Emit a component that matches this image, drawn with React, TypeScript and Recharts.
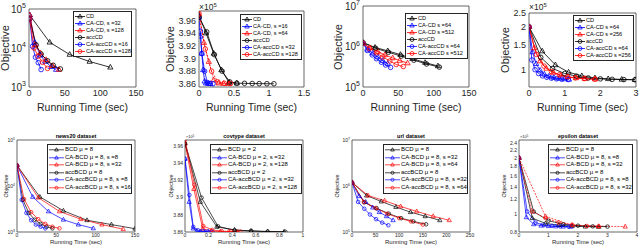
import React from 'react';
import { LineChart, Line, XAxis, YAxis, ReferenceArea, Legend } from 'recharts';

const INK = '#262626';
const FONT = '"Liberation Sans", Arial, Helvetica, sans-serif';
const COLORS = ['#000000', '#0000ff', '#ff0000', '#000000', '#0000ff', '#ff0000'];
const SHAPES = ['tri', 'tri', 'tri', 'circle', 'circle', 'circle'];

// ---------- top row, panel 1 ----------
const labels1 = ['CD', 'CA-CD, s =32', 'CA-CD, s =128', 'accCD', 'CA-accCD s =16', 'CA-accCD s =128'];
const times1 = [
  [1, 29, 57, 85, 114],
  [1, 8, 16, 23, 31, 38],
  [1, 9, 16, 24, 33, 42],
  [1, 10, 17, 26, 34, 44],
  [1, 5, 9, 13, 17],
  [1, 7, 13, 19, 26],
];
const values1 = [
  [7e4, 1.4e4, 6.8e3, 4.5e3, 3.2e3],
  [7e4, 1.4e4, 6.5e3, 4.5e3, 3.3e3, 2.8e3],
  [7e4, 1.2e4, 7.5e3, 5e3, 3.5e3, 2.8e3],
  [5.5e4, 1.2e4, 7e3, 4.7e3, 3.6e3, 2.9e3],
  [5.5e4, 1.1e4, 5.8e3, 4.2e3, 2.8e3],
  [5.5e4, 1e4, 6.2e3, 4.3e3, 3e3],
];

// ---------- top row, panel 2 (x1e5) ----------
const labels2 = ['CD', 'CA-CD, s =16', 'CA-CD, s =64', 'accCD', 'CA-accCD s =32', 'CA-accCD s =128'];
const times2 = [
  [0, 0.1, 0.21, 0.32, 0.43, 0.54],
  [0, 0.02, 0.04, 0.06, 0.08, 0.1, 0.13, 0.16],
  [0, 0.07, 0.14, 0.21, 0.28, 0.35, 0.42],
  [0, 0.11, 0.22, 0.33, 0.44, 0.54, 0.65, 0.76, 0.86, 0.97, 1.07],
  [0.02, 0.04, 0.08, 0.12, 0.16, 0.2],
  [0, 0.09, 0.18, 0.27, 0.36, 0.45],
];
const values2 = [
  [3.968, 3.94, 3.908, 3.882, 3.862, 3.861],
  [3.965, 3.935, 3.908, 3.882, 3.864, 3.861, 3.8603, 3.8601],
  [3.97, 3.925, 3.895, 3.866, 3.861, 3.8604, 3.8602],
  [3.965, 3.942, 3.906, 3.88, 3.863, 3.861, 3.8608, 3.8605, 3.8603, 3.8602, 3.8601],
  [3.943, 3.908, 3.88, 3.862, 3.8605, 3.8601],
  [3.971, 3.915, 3.88, 3.863, 3.861, 3.8605],
];

// ---------- top row, panel 3 ----------
const labels3 = ['CD', 'CA-CD s =64', 'CA-CD s =512', 'accCD', 'CA-accCD s =64', 'CA-accCD s =512'];
const times3 = [
  [0, 17, 35, 53, 70, 88, 106],
  [0, 7, 14, 21, 28, 35],
  [0, 10, 21, 31, 42, 52, 63],
  [0, 18, 36, 54, 72, 90, 108],
  [0, 6, 13, 19, 26, 32, 39],
  [0, 9, 19, 28, 38, 47, 57],
];
const values3 = [
  [1.25e6, 9.5e5, 7.8e5, 6.3e5, 5.0e5, 4.0e5, 3.3e5],
  [1.2e6, 8.5e5, 6.8e5, 5.5e5, 4.5e5, 3.8e5],
  [1.2e6, 9.3e5, 7.5e5, 6.2e5, 5.2e5, 4.5e5, 3.9e5],
  [1.25e6, 9e5, 7.2e5, 5.8e5, 4.6e5, 3.7e5, 3.1e5],
  [1.2e6, 8e5, 6.2e5, 5.0e5, 4.1e5, 3.5e5, 3.05e5],
  [1.2e6, 9e5, 7e5, 5.5e5, 4.4e5, 3.6e5, 3.2e5],
];

// ---------- top row, panel 4 (x1e5) ----------
const labels4 = ['CD', 'CA-CD s =64', 'CA-CD s =256', 'accCD', 'CA-accCD s =64', 'CA-accCD s =256'];
const times4 = [
  [0, 0.37, 0.74, 1.11, 1.48, 1.85, 2.22, 2.6, 2.97],
  [0, 0.1, 0.2, 0.31, 0.43, 0.56, 0.7, 0.85, 1.0, 1.12],
  [0, 0.15, 0.31, 0.49, 0.68, 0.89, 1.1, 1.32, 1.57, 1.85],
  [0, 0.33, 0.66, 1.0, 1.33, 1.66, 2.0, 2.33, 2.66, 2.97],
  [0, 0.08, 0.17, 0.27, 0.38, 0.5, 0.63, 0.77, 0.92, 1.1],
  [0, 0.21, 0.42, 0.63, 0.85, 1.07, 1.3, 1.55, 1.85],
];
const values4 = [
  [2.0, 1.35, 1.08, 0.96, 0.905, 0.875, 0.862, 0.855, 0.85],
  [2.0, 1.33, 1.1, 0.99, 0.93, 0.9, 0.88, 0.868, 0.86, 0.855],
  [2.0, 1.42, 1.15, 1.02, 0.955, 0.915, 0.89, 0.875, 0.865, 0.858],
  [2.0, 1.22, 1.02, 0.94, 0.9, 0.875, 0.862, 0.855, 0.852, 0.85],
  [2.0, 1.17, 1.0, 0.94, 0.905, 0.885, 0.872, 0.863, 0.857, 0.853],
  [2.0, 1.28, 1.06, 0.97, 0.92, 0.893, 0.877, 0.866, 0.858],
];

// ---------- bottom row, news20 ----------
const labels5 = ['BCD \u03bc = 8', 'CA-BCD \u03bc = 8, s =8', 'CA-BCD \u03bc = 8, s =32', 'accBCD \u03bc = 8', 'CA-accBCD \u03bc = 8, s =8', 'CA-accBCD \u03bc = 8, s =16'];
const times5 = [
  [0, 29, 59, 89, 120, 150],
  [0, 20, 40, 59, 78, 97],
  [0, 27, 54, 81, 108, 135],
  [0, 7.5, 15, 22.5, 30, 37.5, 45],
  [0, 6, 12, 18, 24, 30, 36],
  [0, 9, 18, 27, 36, 45, 54],
];
const values5 = [
  [2.8e4, 5.8e3, 2.9e3, 1.8e3, 1.45e3, 1.18e3],
  [2.8e4, 5.8e3, 2.8e3, 1.85e3, 1.45e3, 1.2e3],
  [2.8e4, 5.6e3, 2.8e3, 1.9e3, 1.45e3, 1.15e3],
  [2.8e4, 5e3, 2.6e3, 1.85e3, 1.5e3, 1.3e3, 1.2e3],
  [2.8e4, 5e3, 2.6e3, 1.8e3, 1.45e3, 1.3e3, 1.2e3],
  [2.8e4, 5.2e3, 2.7e3, 1.9e3, 1.5e3, 1.3e3, 1.2e3],
];

// ---------- bottom row, covtype (x1e5) ----------
const labels6 = ['BCD \u03bc = 2', 'CA-BCD \u03bc = 2, s =32', 'CA-BCD \u03bc = 2, s =128', 'accBCD \u03bc = 2', 'CA-accBCD \u03bc = 2, s =32', 'CA-accBCD \u03bc = 2, s =128'];
const times6 = [
  [0, 0.13, 0.27, 0.42, 0.56, 0.7, 0.84],
  [0, 0.035, 0.07, 0.1, 0.135, 0.17, 0.2],
  [0, 0.075, 0.15, 0.225, 0.3, 0.37, 0.44],
  [0, 0.14, 0.28, 0.42, 0.56, 0.7, 0.85],
  [0, 0.037, 0.07, 0.11, 0.15, 0.19, 0.23],
  [0, 0.08, 0.155, 0.23, 0.31, 0.39, 0.47],
];
const values6 = [
  [3.963, 3.895, 3.866, 3.8625, 3.861, 3.8605, 3.8603],
  [3.945, 3.895, 3.864, 3.861, 3.8605, 3.8603, 3.8602],
  [3.963, 3.91, 3.864, 3.861, 3.8605, 3.8603, 3.8602],
  [3.963, 3.9, 3.8665, 3.862, 3.8615, 3.8605, 3.8603],
  [3.945, 3.903, 3.866, 3.862, 3.861, 3.8603, 3.8602],
  [3.967, 3.915, 3.867, 3.8625, 3.861, 3.8605, 3.8603],
];

// ---------- bottom row, url ----------
const labels7 = ['BCD \u03bc = 8', 'CA-BCD \u03bc = 8, s =32', 'CA-BCD \u03bc = 8, s =64', 'accBCD \u03bc = 8', 'CA-accBCD \u03bc = 8, s =32', 'CA-accBCD \u03bc = 8, s =64'];
const times7 = [
  [0, 31, 62, 93, 124, 155, 186],
  [0, 15, 29, 44, 58, 73, 87],
  [0, 34, 69, 103, 137, 172, 206],
  [0, 26, 52, 78, 104, 130, 157],
  [0, 13, 26, 38, 51, 64, 77],
  [0, 25, 50, 75, 100, 125, 150],
];
const values7 = [
  [1.2e6, 6.2e5, 4.6e5, 3.5e5, 2.7e5, 2.2e5, 1.8e5],
  [1.2e6, 6e5, 4.5e5, 3.4e5, 2.7e5, 2.2e5, 1.8e5],
  [1.2e6, 6.2e5, 4.8e5, 3.6e5, 2.8e5, 2.2e5, 1.8e5],
  [1.2e6, 4.4e5, 3.3e5, 2.5e5, 2.0e5, 1.7e5, 1.47e5],
  [1.2e6, 4.5e5, 3.2e5, 2.4e5, 1.9e5, 1.6e5, 1.4e5],
  [1.2e6, 4.5e5, 3.3e5, 2.5e5, 2.0e5, 1.7e5, 1.45e5],
];

// ---------- bottom row, epsilon (x1e5) ----------
const labels8 = ['BCD \u03bc = 8', 'CA-BCD \u03bc = 8, s =8', 'CA-BCD \u03bc = 8, s =32', 'accBCD \u03bc = 8', 'CA-accBCD \u03bc = 8, s =8', 'CA-accBCD \u03bc = 8, s =32'];
const times8 = [
  [0, 0.45, 0.9, 1.35, 1.8, 2.25, 2.7],
  [0, 0.25, 0.5, 0.75, 1.0, 1.25, 1.5, 1.75],
  [0, 0.9, 1.8, 2.7, 3.6],
  [0, 0.5, 1.0, 1.5, 2.0, 2.5, 3.0],
  [0, 0.28, 0.56, 0.84, 1.12, 1.4, 1.68],
  [0, 0.45, 0.9, 1.35, 1.8, 2.3, 2.7],
];
const values8 = [
  [2.0, 0.95, 0.89, 0.87, 0.86, 0.855, 0.852],
  [2.0, 0.96, 0.88, 0.865, 0.86, 0.857, 0.855, 0.853],
  [2.0, 0.97, 0.87, 0.86, 0.855],
  [2.0, 1.03, 0.92, 0.88, 0.865, 0.858, 0.855],
  [2.0, 1.03, 0.9, 0.87, 0.862, 0.857, 0.855],
  [2.0, 1.03, 0.95, 0.9, 0.875, 0.862, 0.857],
];

const marker = (shape: string, cx: number, cy: number, color: string, tri: number, circ: number, sw: number, key?: any) =>
  shape === 'tri' ? (
    <path
      key={key}
      d={`M${cx},${cy - tri}L${cx + tri * 0.9},${cy + tri * 0.6}L${cx - tri * 0.9},${cy + tri * 0.6}Z`}
      fill="none"
      stroke={color}
      strokeWidth={sw}
    />
  ) : (
    <circle key={key} cx={cx} cy={cy} r={circ} fill="none" stroke={color} strokeWidth={sw} />
  );

const PowTick = (props: any) => {
  const { x, y, payload, fs } = props;
  const e = Math.round(Math.log10(payload.value));
  return (
    <text x={x} y={y} dy={fs * 0.35} textAnchor="end" fontSize={fs} fill={INK} fontFamily={FONT}>
      10
      <tspan fontSize={fs * 0.7} dy={-fs * 0.45}>
        {e}
      </tspan>
    </text>
  );
};

function LegendBox({ labels, fs, rowH, lineW, w, tri, circ, sw }: any) {
  return (
    <div
      style={{
        width: w,
        boxSizing: 'border-box',
        border: `0.7px solid ${INK}`,
        background: '#fff',
        padding: '1px 1px',
        fontSize: fs,
        lineHeight: `${rowH}px`,
        whiteSpace: 'nowrap',
        fontFamily: FONT,
        color: '#000',
      }}
    >
      {labels.map((lab: string, i: number) => (
        <div key={i} style={{ display: 'flex', alignItems: 'center', height: rowH }}>
          <svg width={lineW} height={rowH} style={{ flex: 'none' }}>
            <line x1={0} x2={lineW} y1={rowH / 2} y2={rowH / 2} stroke={COLORS[i]} strokeWidth={sw} />
            {marker(SHAPES[i], lineW / 2, rowH / 2, COLORS[i], tri, circ, sw)}
          </svg>
          <span style={{ marginLeft: 1 }}>{lab}</span>
        </div>
      ))}
    </div>
  );
}

function Panel(p: any) {
  const small = p.small;
  const YW = small ? 22 : 28;
  const XH = small ? 9 : 16;
  const MT = 8;
  const MR = 10;
  const W = p.x1 - p.x0 + YW + MR;
  const H = p.y1 - p.y0 + MT + XH;
  const left = p.x0 - YW;
  const top = p.y0 - MT;
  const fs = small ? 5 : 9;
  const sw = small ? 0.7 : 0.8;
  const tri = small ? 2.4 : 2.9;
  const circ = small ? 1.8 : 2.3;
  const lg = p.legend;

  return (
    <>
      <div style={{ position: 'absolute', left, top }}>
        <LineChart width={W} height={H} margin={{ top: MT, right: MR, left: 0, bottom: 0 }}>
          <XAxis
            dataKey="t"
            type="number"
            domain={p.xDomain}
            ticks={p.xTicks}
            interval={0}
            allowDataOverflow
            height={XH}
            axisLine={false}
            tickLine={false}
            tickSize={0}
            tickMargin={small ? 1.5 : 3}
            tick={{ fontSize: fs, fill: INK, fontFamily: FONT }}
          />
          <YAxis
            type="number"
            scale={p.log ? 'log' : 'linear'}
            domain={p.yDomain}
            ticks={p.yTicks}
            interval={0}
            allowDataOverflow
            width={YW}
            axisLine={false}
            tickLine={false}
            tickSize={0}
            tickMargin={small ? 2 : 3}
            tick={p.pow ? (t: any) => <PowTick {...t} fs={small ? 5 : 10} /> : { fontSize: fs, fill: INK, fontFamily: FONT }}
          />
          <ReferenceArea
            x1={p.xDomain[0]}
            x2={p.xDomain[1]}
            y1={p.yDomain[0]}
            y2={p.yDomain[1]}
            fill="none"
            fillOpacity={0}
            stroke={INK}
            strokeWidth={0.7}
          />
          {p.times.map((ts: number[], i: number) => {
            const data = ts.map((t, j) => ({ t, v: p.values[i][j] }));
            return (
              <Line
                key={i}
                data={data}
                dataKey="v"
                name={p.labels[i]}
                stroke={COLORS[i]}
                strokeWidth={sw}
                strokeDasharray={p.dashRed && COLORS[i] === '#ff0000' ? '2 1.2' : undefined}
                isAnimationActive={false}
                activeDot={false}
                dot={(d: any) => marker(SHAPES[i], d.cx, d.cy, COLORS[i], tri, circ, sw, d.index)}
              />
            );
          })}
          <Legend
            layout="vertical"
            align="center"
            verticalAlign="middle"
            wrapperStyle={{ left: lg.x - left, top: lg.y - top, width: lg.w, height: 'auto' }}
            content={() => (
              <LegendBox
                labels={p.labels}
                fs={lg.fs}
                rowH={lg.rowH}
                lineW={lg.lineW}
                w={lg.w}
                tri={tri * 0.85}
                circ={circ * 0.85}
                sw={sw}
              />
            )}
          />
        </LineChart>
      </div>
      <div
        style={{
          position: 'absolute',
          left: p.ylabX,
          top: (p.y0 + p.y1) / 2,
          transform: 'translate(-50%, -50%) rotate(-90deg)',
          fontSize: small ? 5.5 : 11,
          whiteSpace: 'nowrap',
          lineHeight: 1,
        }}
      >
        Objective
      </div>
      <div
        style={{
          position: 'absolute',
          left: (p.x0 + p.x1) / 2,
          top: p.xlabY,
          transform: 'translate(-50%, -50%)',
          fontSize: small ? 6 : 10.5,
          whiteSpace: 'nowrap',
          lineHeight: 1,
        }}
      >
        Running Time (sec)
      </div>
      {p.title && (
        <div
          style={{
            position: 'absolute',
            left: (p.x0 + p.x1) / 2,
            top: p.y0 - 3.5,
            transform: 'translate(-50%, -50%)',
            fontSize: 5.5,
            fontWeight: 'bold',
            whiteSpace: 'nowrap',
            lineHeight: 1,
            color: '#000',
          }}
        >
          {p.title}
        </div>
      )}
      {p.exp && (
        <div
          style={{
            position: 'absolute',
            left: p.x0 + (small ? 1 : 0),
            top: p.exp.y,
            fontSize: p.exp.fs,
            whiteSpace: 'nowrap',
            lineHeight: 1,
          }}
        >
          {'\u00d710'}
          <span style={{ fontSize: p.exp.fs * 0.7, position: 'relative', top: -p.exp.fs * 0.3 }}>5</span>
        </div>
      )}
    </>
  );
}

export default function App() {
  const topLeg = { fs: 5.6, rowH: 7, lineW: 10 };
  const botLeg = { fs: 6, rowH: 7.6, lineW: 15 };
  return (
    <div
      style={{
        position: 'absolute',
        left: 0,
        top: 0,
        width: 640,
        height: 247,
        background: '#fff',
        overflow: 'hidden',
        fontFamily: FONT,
        color: INK,
      }}
    >
      <Panel
        x0={29} x1={136} y0={9} y1={87}
        times={times1} values={values1} labels={labels1}
        xDomain={[0, 150]} xTicks={[0, 50, 100, 150]}
        yDomain={[1e3, 1e5]} yTicks={[1e3, 1e4, 1e5]} log pow
        ylabX={5} xlabY={107}
        legend={{ ...topLeg, x: 73, y: 11, w: 59 }}
      />
      <Panel
        x0={199} x1={304} y0={11} y1={87}
        times={times2} values={values2} labels={labels2}
        xDomain={[0, 1.5]} xTicks={[0, 0.5, 1, 1.5]}
        yDomain={[3.855, 3.975]} yTicks={[3.86, 3.88, 3.9, 3.92, 3.94, 3.96]}
        ylabX={170} xlabY={107} dashRed
        exp={{ y: 2.5, fs: 8.5 }}
        legend={{ ...topLeg, x: 240, y: 14, w: 62 }}
      />
      <Panel
        x0={363} x1={469} y0={6} y1={87}
        times={times3} values={values3} labels={labels3}
        xDomain={[0, 150]} xTicks={[0, 50, 100, 150]}
        yDomain={[1e5, 1e7]} yTicks={[1e5, 1e6, 1e7]} log pow
        ylabX={338} xlabY={107}
        legend={{ ...topLeg, x: 405, y: 13, w: 63 }}
      />
      <Panel
        x0={529} x1={636} y0={13} y1={87}
        times={times4} values={values4} labels={labels4}
        xDomain={[0, 3]} xTicks={[0, 1, 2, 3]}
        yDomain={[0.756, 2.5]} yTicks={[1, 1.5, 2, 2.5]} log
        ylabX={505} xlabY={107}
        exp={{ y: 3, fs: 8.5 }}
        legend={{ ...topLeg, x: 573, y: 15, w: 61 }}
      />

      <Panel
        small title="news20 dataset"
        x0={17} x1={135} y0={140} y1={232}
        times={times5} values={values5} labels={labels5}
        xDomain={[0, 150]} xTicks={[0, 50, 100, 150]}
        yDomain={[1e3, 1e5]} yTicks={[1e3, 1e4, 1e5]} log pow
        ylabX={7} xlabY={242}
        legend={{ ...botLeg, x: 47, y: 144, w: 85 }}
      />
      <Panel
        small title="covtype dataset"
        x0={185} x1={303} y0={140} y1={232}
        times={times6} values={values6} labels={labels6}
        xDomain={[0, 1]} xTicks={[0, 0.2, 0.4, 0.6, 0.8, 1]}
        yDomain={[3.86, 3.967]} yTicks={[3.86, 3.88, 3.9, 3.92, 3.94, 3.96]}
        ylabX={172} xlabY={242}
        exp={{ y: 135, fs: 4 }}
        legend={{ ...botLeg, x: 210, y: 144, w: 92 }}
      />
      <Panel
        small title="url dataset"
        x0={352} x1={470} y0={140} y1={232}
        times={times7} values={values7} labels={labels7}
        xDomain={[0, 250]} xTicks={[0, 50, 100, 150, 200, 250]}
        yDomain={[1e5, 1e7]} yTicks={[1e5, 1e6, 1e7]} log pow
        ylabX={338} xlabY={242}
        legend={{ ...botLeg, x: 383, y: 144, w: 85 }}
      />
      <Panel
        small title="epsilon dataset"
        x0={519} x1={637} y0={140} y1={232}
        times={times8} values={values8} labels={labels8}
        xDomain={[0, 4]} xTicks={[0, 1, 2, 3, 4]}
        yDomain={[0.8, 2.5]} yTicks={[0.8, 1, 1.2, 1.4, 1.6, 1.8, 2, 2.2, 2.4]} log
        ylabX={505} xlabY={242} dashRed
        exp={{ y: 135, fs: 4 }}
        legend={{ ...botLeg, x: 548, y: 144, w: 85 }}
      />
    </div>
  );
}
